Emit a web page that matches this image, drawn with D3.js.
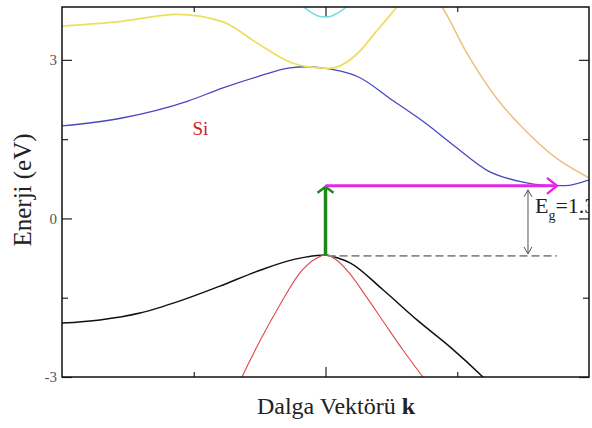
<!DOCTYPE html>
<html>
<head>
<meta charset="utf-8">
<script src="https://cdn.jsdelivr.net/npm/d3@7"></script>
<style>
  body { margin: 0; background: #fff; }
  svg text { font-family: "Liberation Serif", "DejaVu Serif", serif; }
</style>
</head>
<body>
<div id="chart"></div>
<script>
// band data: [k, energy in eV], Gamma at k = 2
const bandHeavy = [[0, -1.98], [0.288, -1.92], [0.592, -1.79], [0.896, -1.56], [1.199, -1.28],
  [1.503, -0.98], [1.769, -0.77], [2, -0.69], [2.095, -0.75], [2.186, -0.84], [2.436, -1.35],
  [2.694, -1.92], [2.945, -2.43], [3.195, -3.0], [3.324, -3.32]];
const bandLight = [[1.306, -3.32], [1.366, -3.0], [1.51, -2.28], [1.662, -1.6], [1.806, -1.03],
  [1.928, -0.76], [2, -0.69], [2.095, -0.81], [2.186, -1.05], [2.307, -1.47], [2.436, -1.94],
  [2.588, -2.49], [2.74, -3.0], [2.8, -3.19]];
const bandCond1 = [[0, 1.75], [0.455, 1.9], [0.956, 2.22], [1.222, 2.47], [1.48, 2.68],
  [1.731, 2.85], [1.86, 2.87], [2, 2.84], [2.07, 2.81], [2.247, 2.68], [2.505, 2.24],
  [2.755, 1.81], [2.983, 1.36], [3.233, 0.9], [3.491, 0.69], [3.643, 0.63], [3.818, 0.62], [4, 0.73]];
const bandCond2 = [[0, 3.64], [0.455, 3.73], [0.87, 3.86], [1.222, 3.72],
  [1.48, 3.32], [1.73, 2.96], [1.86, 2.87], [2.03, 2.84], [2.247, 3.13],
  [2.376, 3.51], [2.505, 3.89], [2.566, 4.08]];
const bandCond3 = [[1.806, 4.08], [1.844, 3.98], [1.898, 3.89], [1.943, 3.83], [1.996, 3.81],
  [2.049, 3.83], [2.095, 3.89], [2.148, 3.98], [2.186, 4.08]];
const bandCond4 = [[2.83, 4.17], [2.884, 4.0], [3.059, 3.19], [3.309, 2.24], [3.491, 1.73],
  [3.742, 1.16], [4, 0.77]];

const bands = [
  {name: 'heavy', pts: bandHeavy, color: '#111111', w: 1.5},
  {name: 'light', pts: bandLight, color: '#e04848', w: 1.1},
  {name: 'cond1', pts: bandCond1, color: '#4a48c0', w: 1.3},
  {name: 'cond2', pts: bandCond2, color: '#ece060', w: 1.8},
  {name: 'cond3', pts: bandCond3, color: '#78d8e0', w: 1.5},
  {name: 'cond4', pts: bandCond4, color: '#ecc080', w: 1.5}
];

const yMajor = [-3, 0, 3];
const yMinor = [-1.5, 1.5];
const kMajor = [2];
const kMinor = [1, 3];

const vbmE = -0.69;    // top of valence band
const cbE = 0.616;     // level of the conduction band arrow
const cbMinK = 3.757;  // arrow tip
const gapK = 3.537;    // double arrow position

const width = 592, height = 428;
const plot = {left: 62, right: 589, top: 7, bottom: 377};

const x = d3.scaleLinear().domain([0, 4]).range([plot.left, plot.right]);
const y = d3.scaleLinear().domain([-3, 4]).range([plot.bottom, plot.top]);

const svg = d3.select('#chart').append('svg')
  .attr('width', width)
  .attr('height', height);

svg.append('rect').attr('width', width).attr('height', height).attr('fill', '#fff');

svg.append('clipPath').attr('id', 'clip')
  .append('rect')
  .attr('x', plot.left).attr('y', plot.top)
  .attr('width', plot.right - plot.left).attr('height', plot.bottom - plot.top);

// axes, ticks pointing inward
function styleAxis(g) {
  g.select('.domain').remove();
  g.selectAll('.tick line').attr('stroke', '#222').attr('stroke-width', 1.2);
  g.selectAll('.tick text').attr('fill', '#555').attr('font-size', 15)
    .attr('font-family', '"Liberation Serif", serif');
}

svg.append('g').attr('transform', `translate(${plot.left},0)`)
  .call(d3.axisLeft(y).tickValues(yMajor).tickSizeInner(-10).tickSizeOuter(0)
    .tickPadding(5).tickFormat(d => String(d)))
  .call(styleAxis);
svg.append('g').attr('transform', `translate(${plot.left},0)`)
  .call(d3.axisLeft(y).tickValues(yMinor).tickSizeInner(-6).tickSizeOuter(0).tickFormat(''))
  .call(styleAxis);
svg.append('g').attr('transform', `translate(${plot.right},0)`)
  .call(d3.axisRight(y).tickValues(yMajor).tickSizeInner(-10).tickSizeOuter(0).tickFormat(''))
  .call(styleAxis);
svg.append('g').attr('transform', `translate(${plot.right},0)`)
  .call(d3.axisRight(y).tickValues(yMinor).tickSizeInner(-6).tickSizeOuter(0).tickFormat(''))
  .call(styleAxis);
svg.append('g').attr('transform', `translate(0,${plot.bottom})`)
  .call(d3.axisBottom(x).tickValues(kMajor).tickSizeInner(-10).tickSizeOuter(0).tickFormat(''))
  .call(styleAxis);
svg.append('g').attr('transform', `translate(0,${plot.bottom})`)
  .call(d3.axisBottom(x).tickValues(kMinor).tickSizeInner(-5).tickSizeOuter(0).tickFormat(''))
  .call(styleAxis);
svg.append('g').attr('transform', `translate(0,${plot.top})`)
  .call(d3.axisTop(x).tickValues(kMajor).tickSizeInner(-10).tickSizeOuter(0).tickFormat(''))
  .call(styleAxis);
svg.append('g').attr('transform', `translate(0,${plot.top})`)
  .call(d3.axisTop(x).tickValues(kMinor).tickSizeInner(-5).tickSizeOuter(0).tickFormat(''))
  .call(styleAxis);

const body = svg.append('g').attr('clip-path', 'url(#clip)');

const line = d3.line()
  .x(d => x(d[0]))
  .y(d => y(d[1]))
  .curve(d3.curveMonotoneX);

body.selectAll('path.band')
  .data(bands)
  .join('path')
  .attr('class', 'band')
  .attr('d', d => line(d.pts))
  .attr('fill', 'none')
  .attr('stroke', d => d.color)
  .attr('stroke-width', d => d.w);

// dashed level of the valence band top
body.append('line')
  .attr('x1', x(2) + 2).attr('x2', x(cbMinK))
  .attr('y1', y(vbmE) + 1).attr('y2', y(vbmE) + 1)
  .attr('stroke', '#8a8a8a').attr('stroke-width', 1.6)
  .attr('stroke-dasharray', '8,4');

// green vertical arrow
body.append('line')
  .attr('x1', x(2)).attr('x2', x(2))
  .attr('y1', y(vbmE)).attr('y2', y(cbE) + 1)
  .attr('stroke', '#1e8a1e').attr('stroke-width', 3.5);
body.append('path')
  .attr('d', `M${x(2) - 8},${y(cbE) + 7}L${x(2)},${y(cbE) + 1}L${x(2) + 8},${y(cbE) + 7}`)
  .attr('fill', 'none').attr('stroke', '#1e8a1e').attr('stroke-width', 2.5);

// magenta horizontal arrow
body.append('line')
  .attr('x1', x(2)).attr('x2', x(cbMinK))
  .attr('y1', y(cbE)).attr('y2', y(cbE))
  .attr('stroke', '#e628e6').attr('stroke-width', 3);
body.append('path')
  .attr('d', `M${x(cbMinK) - 10},${y(cbE) - 8}L${x(cbMinK)},${y(cbE)}L${x(cbMinK) - 10},${y(cbE) + 8}`)
  .attr('fill', 'none').attr('stroke', '#e628e6').attr('stroke-width', 2.5);

// gap double arrow
const gx = x(gapK), gTop = y(cbE) + 4, gBot = y(vbmE) - 1;
body.append('line')
  .attr('x1', gx).attr('x2', gx).attr('y1', gTop).attr('y2', gBot)
  .attr('stroke', '#555').attr('stroke-width', 1);
body.append('path')
  .attr('d', `M${gx - 4},${gTop + 7}L${gx},${gTop}L${gx + 4},${gTop + 7}M${gx - 4},${gBot - 7}L${gx},${gBot}L${gx + 4},${gBot - 7}`)
  .attr('fill', 'none').attr('stroke', '#555').attr('stroke-width', 1);

// the label runs past the frame and is cut there, as in the original
const eg = body.append('text')
  .attr('x', gx + 7).attr('y', y(0.1))
  .attr('font-size', 22).attr('fill', '#222');
eg.append('tspan').text('E');
eg.append('tspan').attr('font-size', 14).attr('dy', 7).text('g');
eg.append('tspan').attr('dy', -7).text('=1.3');

// frame
svg.append('rect')
  .attr('x', plot.left).attr('y', plot.top)
  .attr('width', plot.right - plot.left).attr('height', plot.bottom - plot.top)
  .attr('fill', 'none').attr('stroke', '#111').attr('stroke-width', 1.5);

// labels
svg.append('text')
  .attr('x', x(0.99)).attr('y', y(1.58))
  .attr('font-size', 19).attr('fill', '#cc2222')
  .text('Si');

svg.append('text')
  .attr('transform', `translate(31,190) rotate(-90)`)
  .attr('text-anchor', 'middle')
  .attr('font-size', 25).attr('fill', '#222')
  .text('Enerji (eV)');

const xt = svg.append('text')
  .attr('x', 336).attr('y', 414)
  .attr('text-anchor', 'middle')
  .attr('font-size', 24).attr('fill', '#222');
xt.append('tspan').text('Dalga Vektörü ');
xt.append('tspan').attr('font-weight', 'bold').text('k');
</script>
</body>
</html>
